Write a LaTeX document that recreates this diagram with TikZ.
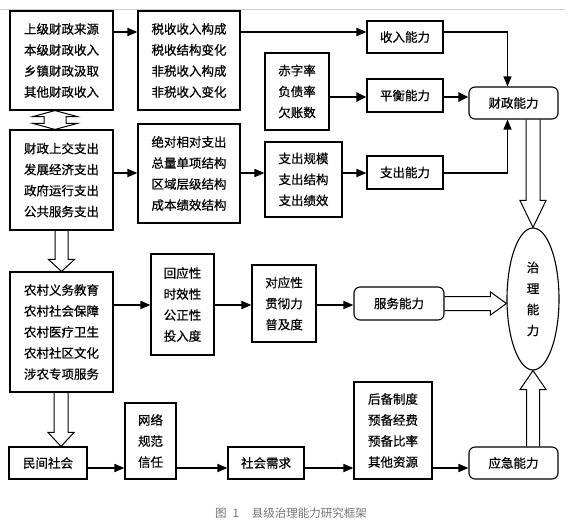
\documentclass[tikz,border=0pt]{standalone}
\usepackage{fontspec}
\setmainfont{Noto Sans CJK SC}
\newfontfamily\boxfont{Noto Sans CJK SC}[FakeBold=0.6]
\usetikzlibrary{arrows.meta,calc,shapes.geometric}
\newcommand{\hdown}[5]{% start, end, shaft half, head half, head length
  \draw[hollow] ($(#1)+(-#3,0)$) -- ($(#2)+(-#3,-#5)$) -- ($(#2)+(-#4,-#5)$) -- (#2) -- ($(#2)+(#4,-#5)$) -- ($(#2)+(#3,-#5)$) -- ($(#1)+(#3,0)$);}
\newcommand{\hup}[5]{%
  \draw[hollow] ($(#1)+(-#3,0)$) -- ($(#2)+(-#3,#5)$) -- ($(#2)+(-#4,#5)$) -- (#2) -- ($(#2)+(#4,#5)$) -- ($(#2)+(#3,#5)$) -- ($(#1)+(#3,0)$);}
\newcommand{\hright}[5]{%
  \draw[hollow] ($(#1)+(0,-#3)$) -- ($(#2)+(-#5,-#3)$) -- ($(#2)+(-#5,-#4)$) -- (#2) -- ($(#2)+(-#5,#4)$) -- ($(#2)+(-#5,#3)$) -- ($(#1)+(0,#3)$);}
\begin{document}
\begin{tikzpicture}[x=1pt,y=-1pt,
  box/.style={draw, line width=1.1pt, inner sep=0pt, align=center, font=\boxfont\fontsize{12.5}{21}\selectfont},
  rbox/.style={box, rounded corners=6pt},
  arr/.style={line width=1.7pt, -{Triangle[length=10pt,width=8pt]}},
  thinarr/.style={line width=1.1pt, -{Triangle[length=10pt,width=8pt]}},
  thickarr/.style={line width=2.6pt, -{Triangle[length=10pt,width=9pt]}},
  hollow/.style={draw, line width=1pt, line join=miter}]
\useasboundingbox (0,0) rectangle (570,525);
\draw[black!20, line width=0.6pt] (0,9) -- (565,9);

% row 1
\node[box, minimum width=103pt, minimum height=99pt] (A) at (61.5,60.5) {上级财政来源\\本级财政收入\\乡镇财政汲取\\其他财政收入};
\node[box, minimum width=102pt, minimum height=99pt] (B) at (189,60.5) {税收收入构成\\税收结构变化\\非税收入构成\\非税收入变化};
\node[box, minimum width=76pt, minimum height=32pt] (inc) at (405,37) {收入能力};
\node[box, minimum width=64pt, minimum height=77pt] (C) at (297,91.5) {赤字率\\负债率\\欠账数};
\node[box, minimum width=76pt, minimum height=33pt] (bal) at (405,95.5) {平衡能力};
\node[rbox, minimum width=89pt, minimum height=32pt] (fin) at (513.5,103) {财政能力};

% row 2
\node[box, minimum width=103pt, minimum height=100pt] (E) at (61.5,180) {财政上交支出\\发展经济支出\\政府运行支出\\公共服务支出};
\node[box, minimum width=102pt, minimum height=99pt] (F) at (189,173.5) {绝对相对支出\\总量单项结构\\区域层级结构\\成本绩效结构};
\node[box, minimum width=77pt, minimum height=75pt] (G) at (303.5,179.5) {支出规模\\支出结构\\支出绩效};
\node[box, minimum width=76pt, minimum height=33pt] (exp) at (405,172.5) {支出能力};

% row 3
\node[box, minimum width=103pt, minimum height=120pt] (H) at (61.5,332) {农村义务教育\\农村社会保障\\农村医疗卫生\\农村社区文化\\涉农专项服务};
\node[box, minimum width=63pt, minimum height=101pt] (I) at (182.5,304.5) {回应性\\时效性\\公正性\\投入度};
\node[box, minimum width=64pt, minimum height=77pt] (J) at (284,303.5) {对应性\\贯彻力\\普及度};
\node[rbox, minimum width=90pt, minimum height=33pt] (svc) at (399,303.5) {服务能力};
\node[draw, ellipse, line width=1.1pt, inner sep=0pt, minimum width=52pt, minimum height=142pt, align=center, font=\boxfont\fontsize{12.5}{21}\selectfont] (ell) at (533,299) {治\\理\\能\\力};

% row 4
\node[box, minimum width=78pt, minimum height=32pt] (civ) at (48,463) {民间社会};
\node[box, minimum width=51pt, minimum height=76pt] (K) at (150.5,441) {网络\\规范\\信任};
\node[box, minimum width=76pt, minimum height=32pt] (dem) at (266,463) {社会需求};
\node[box, minimum width=78pt, minimum height=97pt] (L) at (393,430.5) {后备制度\\预备经费\\预备比率\\其他资源};
\node[rbox, minimum width=89pt, minimum height=32pt] (eme) at (513.5,463) {应急能力};

\node[text=black!55, font=\fontsize{11.5}{13}\selectfont] (cap) at (291,513) {图\hspace{6pt}1\hspace{13pt}县级治理能力研究框架};

% helper coordinates
\coordinate (r1) at (0,32);
\coordinate (r2) at (0,97);
\coordinate (r3) at (0,173);
\coordinate (r4) at (0,305);
\coordinate (r5) at (0,468);
\coordinate (xv) at (507.5,0);
\coordinate (xd) at (55,0);
\coordinate (xh) at (61,0);

% straight arrows
\draw[arr] (A.east |- r1) -- (B.west |- r1);
\draw[arr] (B.east |- r1) -- (inc.west |- r1);
\draw[thinarr] (inc.east |- r1) -| (fin.north -| xv);
\draw[thickarr] (C.east |- r2) -- (bal.west |- r2);
\draw[thickarr] (bal.east |- r2) -- (fin.west |- r2);
\draw[arr] (E.east |- r3) -- (F.west |- r3);
\draw[arr] (F.east |- r3) -- (G.west |- r3);
\draw[arr] (G.east |- r3) -- (exp.west |- r3);
\draw[thinarr] (exp.east |- r3) -| (fin.south -| xv);
\draw[arr] (H.east |- r4) -- (I.west |- r4);
\draw[arr] (I.east |- r4) -- (J.west |- r4);
\draw[arr] (J.east |- r4) -- (svc.west |- r4);
\draw[arr] (civ.east |- r5) -- (K.west |- r5);
\draw[arr] (K.east |- r5) -- (dem.west |- r5);
\draw[arr] (dem.east |- r5) -- (L.west |- r5);
\draw[arr] (L.east |- r5) -- (eme.west |- r5);

% hollow arrows
\coordinate (f1) at (fin.south -| ell.north);
\hdown{f1}{ell.north}{7}{13}{27}
\coordinate (e1) at (eme.north -| ell.south);
\hup{e1}{ell.south}{6.5}{13}{19}
\coordinate (s2) at (ell.west |- svc.east);
\hright{svc.east}{s2}{7}{11.5}{16}
\hdown{E.south}{H.north}{6.5}{13}{12}
\coordinate (h1) at (H.south -| xh);
\coordinate (h2) at (civ.north -| xh);
\hdown{h1}{h2}{7}{13}{14}
% double hollow arrow between A and E
\coordinate (t1) at (A.south -| xd);
\coordinate (t2) at (E.north -| xd);
\draw[hollow] (t1) -- ($(t1)+(22,6)$) -- ($(t1)+(11,6)$) -- ($(t2)+(11,-6)$) -- ($(t2)+(22,-6)$) -- (t2) -- ($(t2)+(-22,-6)$) -- ($(t2)+(-11,-6)$) -- ($(t1)+(-11,6)$) -- ($(t1)+(-22,6)$) -- cycle;
\end{tikzpicture}
\end{document}
